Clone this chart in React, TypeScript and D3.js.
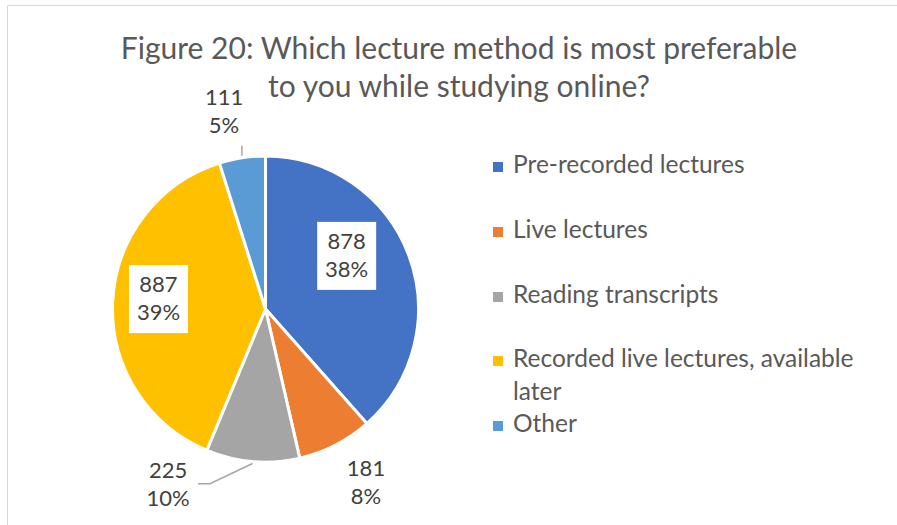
import React from "react";
import * as d3 from "d3";

const categories = [
  "Pre-recorded lectures",
  "Live lectures",
  "Reading transcripts",
  "Recorded live lectures, available later",
  "Other",
];
const values = [878, 181, 225, 887, 111];
const percentLabels = ["38%", "8%", "10%", "39%", "5%"];
const colors = ["#4472C4", "#ED7D31", "#A5A5A5", "#FFC000", "#5B9BD5"];
const legendLines = [
  ["Pre-recorded lectures"],
  ["Live lectures"],
  ["Reading transcripts"],
  ["Recorded live lectures, available", "later"],
  ["Other"],
];
const titleLines = [
  "Figure 20: Which lecture method is most preferable",
  "to you while studying online?",
];

// label layout: polar position (deg clockwise from top, distance), inside box?
const labelLayout = [
  { angle: 56.8, dist: 97, boxed: true, leader: false },
  { angle: 150, dist: 201, boxed: false, leader: false },
  { angle: 209, dist: 201, boxed: false, leader: true },
  { angle: 275.3, dist: 107.5, boxed: true, leader: false },
  { angle: 348.1, dist: 201, boxed: false, leader: true },
];

const W = 897;
const H = 525;
const cx = 265.5;
const cy = 309;
const R = 153;

export default function App() {
  const pie = d3.pie<number>().sort(null).value((d) => d)(values);
  const arc = d3.arc<d3.PieArcDatum<number>>().innerRadius(0).outerRadius(R);
  const polar = (deg: number, r: number) => {
    const a = (deg * Math.PI) / 180;
    return [cx + Math.sin(a) * r, cy - Math.cos(a) * r];
  };
  const font = "Lato, 'Open Sans', sans-serif";

  return (
    <svg
      width={W}
      height={H}
      style={{ position: "absolute", left: 0, top: 0, background: "#fff" }}
    >
      <rect x={0} y={0} width={W} height={H} fill="#fff" />
      <line x1={7.5} y1={5.5} x2={W} y2={5.5} stroke="#d9d9d9" strokeWidth={1} />
      <line x1={7.5} y1={5.5} x2={7.5} y2={H} stroke="#d9d9d9" strokeWidth={1} />

      {titleLines.map((t, i) => (
        <text
          key={i}
          x={459}
          y={59 + i * 38}
          textAnchor="middle"
          fontFamily={font}
          fontSize={30}
          fill="#595959"
        >
          {t}
        </text>
      ))}

      <g transform={`translate(${cx},${cy})`}>
        {pie.map((d, i) => (
          <path key={i} d={arc(d) || ""} fill={colors[i]} stroke="#fff" strokeWidth={3} />
        ))}
      </g>

      {pie.map((d, i) => {
        const L = labelLayout[i];
        if (!L.leader) return null;
        const midDeg = (((d.startAngle + d.endAngle) / 2) * 180) / Math.PI;
        const [x0, y0] = polar(midDeg, R + 2);
        const [lx, ly] = polar(L.angle, L.dist);
        let pts: [number, number][];
        if (i === 4) {
          pts = [
            [x0, y0],
            [x0, y0 - 10],
          ];
        } else {
          pts = [
            [x0, y0],
            [lx + 42, ly - 1],
            [lx + 30, ly - 1],
          ];
        }
        return (
          <path
            key={"l" + i}
            d={d3.line()(pts) || ""}
            fill="none"
            stroke="#a6a6a6"
            strokeWidth={1.5}
          />
        );
      })}

      {pie.map((d, i) => {
        const L = labelLayout[i];
        const [lx, ly] = polar(L.angle, L.dist);
        return (
          <g key={"t" + i}>
            {L.boxed && (
              <rect x={lx - 29.5} y={ly - 34} width={59} height={68} fill="#fff" />
            )}
            <text
              x={lx}
              y={ly - 7}
              textAnchor="middle"
              fontFamily={font}
              fontSize={22}
              fill="#404040"
            >
              {values[i]}
            </text>
            <text
              x={lx}
              y={ly + 21}
              textAnchor="middle"
              fontFamily={font}
              fontSize={22}
              fill="#404040"
            >
              {percentLabels[i]}
            </text>
          </g>
        );
      })}

      {categories.map((c, i) => {
        const ys = [173, 238, 303, 367, 432];
        const y = ys[i];
        return (
          <g key={"lg" + i}>
            <rect x={493} y={y - 11} width={10} height={10} fill={colors[i]} />
            {legendLines[i].map((ln, j) => (
              <text
                key={j}
                x={513}
                y={y + j * 33}
                fontFamily={font}
                fontSize={24.5}
                fill="#595959"
              >
                {ln}
              </text>
            ))}
          </g>
        );
      })}
    </svg>
  );
}
